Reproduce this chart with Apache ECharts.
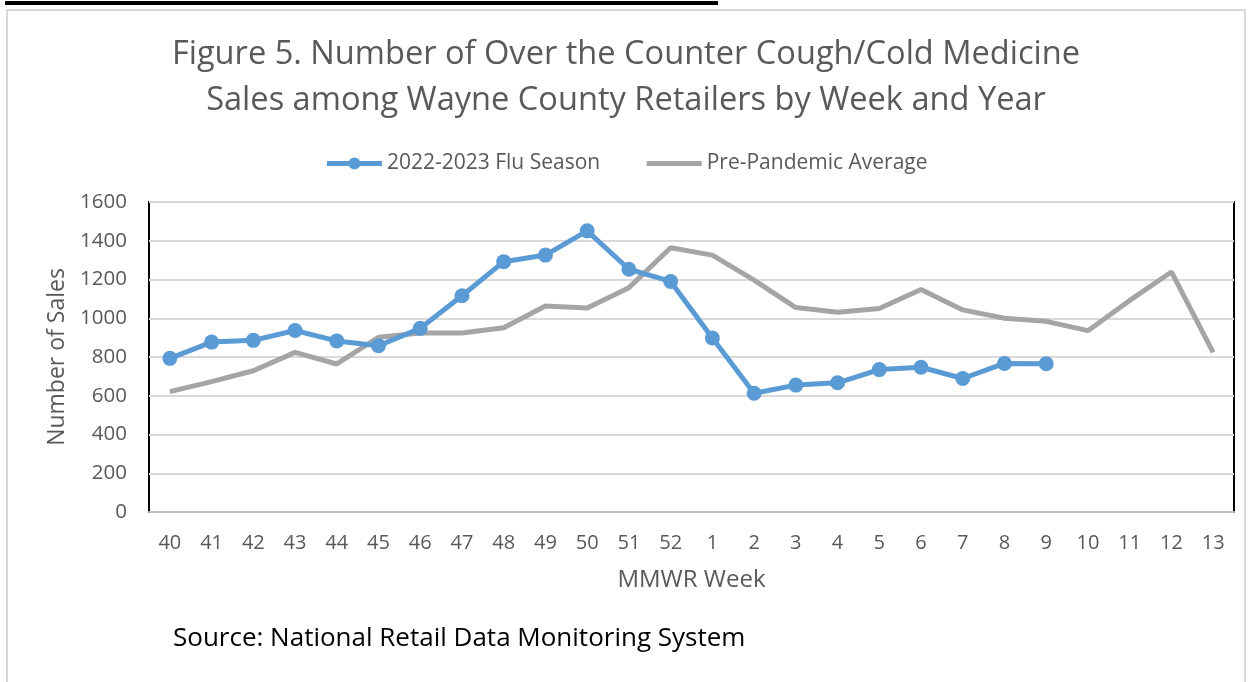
<!DOCTYPE html>
<html>
<head>
<meta charset="utf-8">
<script src="https://cdn.jsdelivr.net/npm/echarts@6/dist/echarts.min.js"></script>
<style>
  html, body { margin: 0; padding: 0; background: #fff; }
  #chart { width: 1252px; height: 682px; }
</style>
</head>
<body>
<div id="chart"></div>
<script>
// MMWR weeks, season 2022-2023
const weeks = ['40', '41', '42', '43', '44', '45', '46', '47', '48', '49', '50', '51', '52',
  '1', '2', '3', '4', '5', '6', '7', '8', '9', '10', '11', '12', '13']
const fluSeason = [793, 877, 886, 937, 883, 858, 948, 1116, 1292, 1326, 1451, 1253, 1190,
  898, 613, 655, 667, 735, 747, 689, 767, 765]
const prePandemic = [621, 673, 729, 824, 764, 902, 924, 924, 951, 1063, 1053, 1158, 1364,
  1326, 1197, 1055, 1031, 1050, 1148, 1043, 1000, 984, 936, 1092, 1239, 824]
const yTicks = { min: 0, max: 1600, interval: 200 }

const textColor = '#595959'
const font = '"Open Sans", sans-serif'

const chart = echarts.init(document.getElementById('chart'))

chart.setOption({
  animation: false,
  backgroundColor: '#fff',
  title: [{
    text: 'Figure 5. Number of Over the Counter Cough/Cold Medicine\nSales among Wayne County Retailers by Week and Year',
    left: 'center',
    top: 27,
    textStyle: {
      color: textColor,
      fontFamily: font,
      fontWeight: 'normal',
      fontSize: 32.6,
      lineHeight: 46
    }
  }, {
    text: 'Source: National Retail Data Monitoring System',
    left: 168,
    top: 621,
    textStyle: {
      color: '#000',
      fontFamily: font,
      fontWeight: 'normal',
      fontSize: 26
    }
  }],
  graphic: [{
    type: 'rect',
    shape: { x: 7, y: 10, width: 1238, height: 700 },
    style: { fill: 'none', stroke: '#d9d9d9', lineWidth: 2 },
    silent: true
  }, {
    type: 'rect',
    shape: { x: 5, y: 1, width: 713, height: 4 },
    style: { fill: '#000' },
    silent: true
  }],
  legend: {
    top: 148,
    left: 'center',
    itemWidth: 55,
    itemHeight: 15,
    itemGap: 44,
    lineStyle: { width: 5 },
    textStyle: {
      color: textColor,
      fontFamily: font,
      fontSize: 21
    },
    data: [
      { name: '2022-2023 Flu Season' },
      { name: 'Pre-Pandemic Average', itemStyle: { opacity: 0 } }
    ]
  },
  grid: {
    left: 149,
    right: 18,
    top: 202,
    bottom: 170,
    show: true,
    borderColor: '#000',
    borderWidth: 2,
    containLabel: false
  },
  xAxis: {
    type: 'category',
    boundaryGap: true,
    data: weeks,
    name: 'MMWR Week',
    nameLocation: 'middle',
    nameGap: 56,
    nameTextStyle: {
      color: textColor,
      fontFamily: font,
      fontSize: 24
    },
    axisLine: {
      lineStyle: { color: '#bfbfbf', width: 2 }
    },
    axisTick: { show: false },
    axisLabel: {
      color: textColor,
      fontFamily: font,
      fontSize: 20,
      margin: 21
    }
  },
  yAxis: {
    type: 'value',
    min: yTicks.min,
    max: yTicks.max,
    interval: yTicks.interval,
    name: 'Number of Sales',
    nameLocation: 'middle',
    nameGap: 80,
    nameTextStyle: {
      color: textColor,
      fontFamily: font,
      fontSize: 23
    },
    axisLine: { show: false },
    axisTick: { show: false },
    axisLabel: {
      color: textColor,
      fontFamily: font,
      fontSize: 20.5,
      margin: 22,
      formatter: v => String(v)
    },
    splitLine: {
      lineStyle: { color: '#d9d9d9', width: 2 }
    }
  },
  series: [{
    name: '2022-2023 Flu Season',
    type: 'line',
    data: fluSeason,
    symbol: 'circle',
    symbolSize: 15,
    color: '#5b9bd5',
    lineStyle: { width: 5, color: '#5b9bd5' },
    itemStyle: { color: '#5b9bd5' },
    z: 3
  }, {
    name: 'Pre-Pandemic Average',
    type: 'line',
    data: prePandemic,
    symbol: 'none',
    color: '#a5a5a5',
    lineStyle: { width: 5, color: '#a5a5a5' },
    z: 2
  }]
})
</script>
</body>
</html>
